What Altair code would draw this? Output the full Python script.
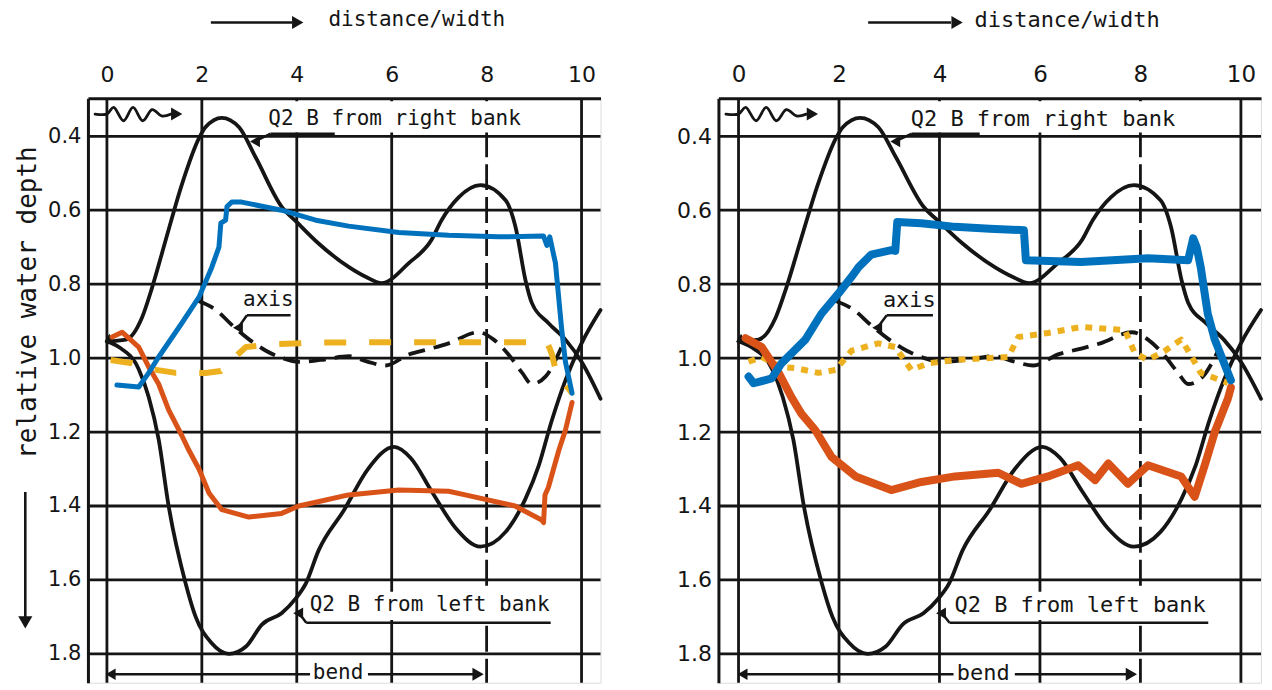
import altair as alt
import pandas as pd

INK = "#151515"
FONT = "DejaVu Sans"
MONO = "DejaVu Sans Mono"
BLUE = "#0072BD"
ORANGE = "#D95319"
YELLOW = "#EDB120"

XMIN, XMAX = -0.4, 10.4
YTOP, YBOT = 0.297, 1.878

x_ticks = [0, 2, 4, 6, 8, 10]
y_ticks = [0.4, 0.6, 0.8, 1.0, 1.2, 1.4, 1.6, 1.8]
grid_x_solid = [0, 2, 4, 6, 10]
grid_x_dashed = [8]

# ---- scanned black curves (same figure in both panels) ----
rb_x = [0, 0.4, 0.74, 0.95, 1.24, 1.58, 1.94, 2.08, 2.42, 2.78, 3.13, 3.68, 4.0, 4.46, 5.1, 5.45, 5.79,
        6.36, 6.84, 7.05, 7.41, 7.87, 8.4, 8.61, 8.82, 8.95, 9.3, 9.66, 10.0, 10.4]
rb_y = [0.955, 0.95, 0.89, 0.81, 0.68, 0.53, 0.405, 0.375, 0.35, 0.375, 0.456, 0.59, 0.632, 0.69, 0.754,
        0.78, 0.797, 0.743, 0.68, 0.627, 0.565, 0.532, 0.573, 0.646, 0.79, 0.85, 0.905, 0.95, 1.01, 1.11]

lb_x = [0, 0.25, 0.67, 0.88, 1.09, 1.3, 1.66, 1.87, 2.2, 2.57, 2.93, 3.27, 3.68, 3.98, 4.19, 4.46, 5.0,
        5.5, 6.05, 6.4, 6.84, 7.35, 7.87, 8.4, 8.82, 9.1, 9.37, 9.66, 10.0, 10.4]
lb_y = [0.955, 0.97, 1.03, 1.105, 1.22, 1.40, 1.61, 1.70, 1.77, 1.80, 1.78, 1.72, 1.69, 1.65, 1.61, 1.52,
        1.41, 1.30, 1.24, 1.27, 1.36, 1.46, 1.51, 1.47, 1.38, 1.29, 1.17, 1.06, 0.96, 0.87]

ax_x = [1.92, 2.3, 2.63, 3.0, 3.35, 3.7, 4.04, 4.5, 5.1, 5.5, 5.87, 6.36, 6.8, 7.2, 7.83, 8.15, 8.46,
        8.75, 8.95, 9.24, 9.58]
ax_y = [0.845, 0.87, 0.91, 0.95, 0.98, 1.0, 1.01, 1.005, 0.995, 1.01, 1.02, 0.99, 0.975, 0.96, 0.93, 0.95,
        0.99, 1.04, 1.07, 1.05, 0.97]

wave_x = [-0.25, 0.0, 0.15, 0.35, 0.55, 0.75, 0.95, 1.15, 1.35]
wave_y = [0.34, 0.34, 0.322, 0.358, 0.322, 0.358, 0.328, 0.345, 0.34]

# ---- left panel overlays ----
L_blue_x = [0.21, 0.67, 0.88, 1.09, 1.58, 1.94, 2.21, 2.36, 2.4, 2.5, 2.53, 2.63, 2.84, 3.68, 4.4, 5.09,
            6.15, 7.2, 8.25, 9.2, 9.27, 9.33, 9.45, 9.58, 9.66, 9.8]
L_blue_y = [1.073, 1.078, 1.04, 0.997, 0.905, 0.835, 0.754, 0.70, 0.635, 0.627, 0.59, 0.578, 0.578, 0.60,
            0.627, 0.643, 0.66, 0.668, 0.672, 0.67, 0.695, 0.672, 0.743, 0.92, 1.01, 1.095]

L_orange_x = [0.11, 0.32, 0.67, 0.88, 1.09, 1.3, 1.58, 1.73, 1.94, 2.15, 2.42, 2.99, 3.68, 4.04, 4.4,
              5.09, 6.15, 7.2, 7.55, 8.6, 9.16, 9.2, 9.23, 9.3, 9.52, 9.66, 9.8]
L_orange_y = [0.943, 0.93, 0.97, 1.024, 1.07, 1.14, 1.21, 1.25, 1.30, 1.365, 1.41, 1.43, 1.42, 1.40, 1.39,
              1.37, 1.357, 1.36, 1.37, 1.40, 1.438, 1.445, 1.37, 1.35, 1.25, 1.195, 1.12]

L_yellow_x = [0.08, 0.53, 0.95, 1.45, 2.08, 2.4, 2.63, 2.93, 3.56, 4.46, 6.0, 7.5, 8.6, 9.16, 9.3, 9.37,
              9.47, 9.8]
L_yellow_y = [1.005, 1.014, 1.03, 1.04, 1.04, 1.035, 1.005, 0.97, 0.962, 0.958, 0.957, 0.957, 0.957,
              0.957, 0.965, 0.987, 1.04, 1.095]

# ---- right panel overlays ----
R_blue_x = [0.2, 0.3, 0.66, 0.85, 1.33, 1.65, 1.99, 2.25, 2.39, 2.64, 3.04, 3.12, 3.16, 3.64, 4.31, 5.0,
            5.68, 5.72, 6.82, 8.15, 8.95, 9.05, 9.12, 9.2, 9.34, 9.48, 9.8]
R_blue_y = [1.05, 1.068, 1.055, 1.015, 0.95, 0.88, 0.825, 0.78, 0.754, 0.72, 0.708, 0.71, 0.632, 0.635,
            0.645, 0.65, 0.654, 0.735, 0.74, 0.73, 0.735, 0.676, 0.70, 0.754, 0.88, 0.95, 1.06]

R_orange_x = [0.14, 0.46, 0.8, 1.05, 1.25, 1.53, 1.85, 2.33, 3.04, 3.64, 4.31, 5.17, 5.63, 6.16, 6.76,
              7.1, 7.36, 7.75, 8.15, 8.81, 9.08, 9.28, 9.48, 9.74, 9.8]
R_orange_y = [0.946, 0.97, 1.04, 1.105, 1.15, 1.195, 1.267, 1.32, 1.357, 1.335, 1.32, 1.31, 1.34, 1.32,
              1.29, 1.33, 1.285, 1.34, 1.29, 1.32, 1.375, 1.29, 1.20, 1.11, 1.08]

R_yellow_x = [0.2, 0.46, 0.85, 1.13, 1.59, 1.93, 2.25, 2.78, 3.12, 3.44, 3.78, 4.31, 5.37, 5.57, 6.16,
              6.82, 7.69, 7.89, 8.15, 8.49, 8.81, 8.95, 9.2, 9.74]
R_yellow_y = [1.01, 0.997, 1.024, 1.027, 1.04, 1.032, 0.98, 0.96, 0.97, 1.032, 1.014, 1.005, 0.997,
              0.943, 0.932, 0.916, 0.924, 0.987, 1.005, 0.98, 0.95, 0.98, 1.04, 1.067]

# ---- annotation texts ----
ann_text = ["Q2 B from right bank", "Q2 B from left bank", "axis", "bend", "distance/width"]


def make_panel(w, h, blue, orange, yellow, ydash, cw, fs, arrow_x, with_title, label_x):
    xs = alt.Scale(domain=[XMIN, XMAX], nice=False, zero=False)
    ys = alt.Scale(domain=[YTOP, YBOT], reverse=True, nice=False, zero=False)
    xax = alt.Axis(orient="top", values=x_ticks, format="d", labelFontSize=fs + 1, labelFont=FONT,
                   labelColor=INK, labelPadding=12, ticks=False, tickSize=0, grid=False,
                   domainColor=INK, domainWidth=3, title=None)
    yax = alt.Axis(values=y_ticks, format=".1f", labelFontSize=fs, labelFont=FONT, labelColor=INK,
                   labelPadding=7, ticks=False, tickSize=0, grid=False, domainColor=INK,
                   domainWidth=3, title=None)

    def X(f="x"):
        return alt.X(f"{f}:Q", scale=xs, axis=xax)

    def Y(f="y"):
        return alt.Y(f"{f}:Q", scale=ys, axis=yax)

    def line(xv, yv, color, width, interp="linear", dash=None):
        df = pd.DataFrame({"x": xv, "y": yv, "o": list(range(len(xv)))})
        kw = dict(color=color, strokeWidth=width, interpolate=interp, clip=False,
                  strokeCap="round", strokeJoin="round")
        if dash is not None:
            kw["strokeDash"] = dash
            kw["strokeCap"] = "butt"
        return alt.Chart(df).mark_line(**kw).encode(x=X(), y=Y(), order="o:Q")

    layers = []
    # grid
    layers.append(alt.Chart(pd.DataFrame({"x": grid_x_solid})).mark_rule(
        color=INK, strokeWidth=2.8).encode(x=X()))
    layers.append(alt.Chart(pd.DataFrame({"x": grid_x_dashed})).mark_rule(
        color=INK, strokeWidth=2.8, strokeDash=[26, 7]).encode(x=X()))
    layers.append(alt.Chart(pd.DataFrame({"y": y_ticks})).mark_rule(
        color=INK, strokeWidth=2.8).encode(y=Y()))
    # white label boxes
    boxes = pd.DataFrame({"x": [3.3, 4.15, 4.2], "x2": [8.9, 9.45, 5.55],
                          "y": [0.305, 1.632, 1.835], "y2": [0.39, 1.708, 1.875]})
    layers.append(alt.Chart(boxes).mark_rect(color="white").encode(
        x=X(), x2="x2:Q", y=Y(), y2="y2:Q"))
    # black curves
    layers.append(line(rb_x, rb_y, INK, 3.8, "monotone"))
    layers.append(line(lb_x, lb_y, INK, 3.8, "monotone"))
    layers.append(line(ax_x, ax_y, INK, 3.8, "monotone", [17, 9]))
    layers.append(line(wave_x, wave_y, INK, 2.8, "cardinal"))
    # start marker
    layers.append(alt.Chart(pd.DataFrame({"x": [0.05], "y": [0.945]})).mark_point(
        shape="triangle-up", filled=True, size=90, color=INK, opacity=1).encode(x=X(), y=Y()))
    # overlays
    layers.append(line(yellow[0], yellow[1], YELLOW, 6, "linear", ydash))
    layers.append(line(orange[0], orange[1], ORANGE, cw, "linear"))
    layers.append(line(blue[0], blue[1], BLUE, cw, "linear"))

    # leader lines / arrows
    segs = pd.DataFrame({
        "x": [3.45, 3.45, 4.2, 4.2, 2.95, 2.95, 0.05, 5.5, arrow_x[0]],
        "x2": [4.8, 3.15, 9.35, 4.05, 3.87, 2.78, 4.28, 7.8, arrow_x[1] - 0.12],
        "y": [0.393, 0.393, 1.716, 1.716, 0.884, 0.884, 1.855, 1.855, 0.092],
        "y2": [0.393, 0.412, 1.716, 1.69, 0.884, 0.915, 1.855, 1.855, 0.092],
    })
    layers.append(alt.Chart(segs).mark_rule(color=INK, strokeWidth=2.5, clip=False).encode(
        x=X(), x2="x2:Q", y=Y(), y2="y2:Q"))
    heads_r = pd.DataFrame({"x": [1.47, 7.82, arrow_x[1]], "y": [0.34, 1.855, 0.092]})
    layers.append(alt.Chart(heads_r).mark_point(shape="triangle-right", filled=True, size=170,
                                                color=INK, opacity=1).encode(x=X(), y=Y()))
    heads_l = pd.DataFrame({"x": [3.12, 4.03, 2.76, 0.08], "y": [0.414, 1.69, 0.918, 1.855]})
    layers.append(alt.Chart(heads_l).mark_point(shape="triangle-left", filled=True, size=130,
                                                color=INK, opacity=1).encode(x=X(), y=Y()))

    # texts
    tdf = pd.DataFrame({"t": ann_text,
                        "x": [6.06, 6.8, 3.4, 4.87, label_x],
                        "y": [0.352, 1.667, 0.843, 1.851, 0.086]})
    layers.append(alt.Chart(tdf).mark_text(font=MONO, fontSize=fs, color=INK, align="center",
                                           baseline="middle").encode(x=X(), y=Y(), text="t:N"))

    if with_title:
        ttl = pd.DataFrame({"t": ["relative water depth"], "x": [-1.66], "y": [0.85]})
        layers.append(alt.Chart(ttl).mark_text(font=MONO, fontSize=26, color=INK, angle=270,
                                               align="center", baseline="middle").encode(
            x=X(), y=Y(), text="t:N"))
        arr = pd.DataFrame({"x": [-1.72], "y": [1.362], "y2": [1.70]})
        layers.append(alt.Chart(arr).mark_rule(color=INK, strokeWidth=2.6).encode(
            x=X(), y=Y(), y2="y2:Q"))
        layers.append(alt.Chart(pd.DataFrame({"x": [-1.72], "y": [1.715]})).mark_point(
            shape="triangle-down", filled=True, size=200, color=INK, opacity=1).encode(x=X(), y=Y()))

    return alt.layer(*layers).properties(width=w, height=h)


left = make_panel(513, 585, (L_blue_x, L_blue_y), (L_orange_x, L_orange_y), (L_yellow_x, L_yellow_y),
                  [22, 23], 5, 21, (2.19, 4.02), True, 6.53)
right = make_panel(543, 585, (R_blue_x, R_blue_y), (R_orange_x, R_orange_y), (R_yellow_x, R_yellow_y),
                   [7, 7], 8, 22, (2.58, 4.35), False, 6.54)

chart = alt.hconcat(left, right, spacing=72).properties(
    padding={"left": 6, "top": 0, "right": 0, "bottom": 0}).configure_view(
    strokeWidth=0).configure(background="white")

chart.save("out.html", embed_options={"renderer": "svg", "actions": False})
